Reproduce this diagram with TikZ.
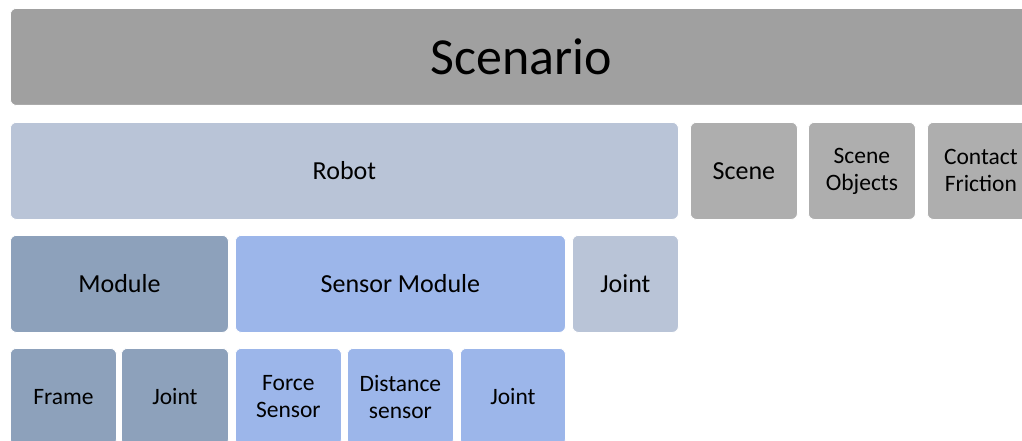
\documentclass[tikz,border=0pt]{standalone}
\usepackage{fontspec}
\setmainfont{Carlito}
\definecolor{topgray}{HTML}{A0A0A0}
\definecolor{sidegray}{HTML}{AEAEAE}
\definecolor{paleblue}{HTML}{B9C4D7}
\definecolor{slateblue}{HTML}{8DA1BB}
\definecolor{skyblue}{HTML}{9CB6EA}
\tikzset{
  box/.style={draw=white, line width=0.8pt, rounded corners=6pt, anchor=north west,
    inner sep=0pt, align=center, text=black, minimum height=97pt},
  big/.style={font=\fontsize{26}{30}\selectfont},
  small/.style={font=\fontsize{23.5}{27}\selectfont},
}
\begin{document}
\begin{tikzpicture}[x=1pt,y=1pt]
  \useasboundingbox (0,0) rectangle (1022,-441);
  \clip (0,0) rectangle (1022,-441);
  % top level
  \node[box, fill=topgray, minimum width=1022pt, font=\fontsize{52}{56}\selectfont] (scenario) at (10,-8) {Scenario};
  % second level
  \node[box, fill=paleblue, minimum width=668pt, big] (robot) at (10,-122) {Robot};
  \node[box, fill=sidegray, minimum width=107pt, big] (scene) at (690,-122) {Scene};
  \node[box, fill=sidegray, minimum width=107pt, small] (sceneobj) at (808,-122) {Scene\\Objects};
  \node[box, fill=sidegray, minimum width=107pt, small] (contact) at (927,-122) {Contact\\Friction};
  % third level
  \node[box, fill=slateblue, minimum width=218pt, big] (module) at (10,-235) {Module};
  \node[box, fill=skyblue, minimum width=330pt, big] (sensormod) at (235,-235) {Sensor Module};
  \node[box, fill=paleblue, minimum width=106pt, big] (joint) at (572,-235) {Joint};
  % fourth level
  \node[box, fill=slateblue, minimum width=106pt, small] (frame) at (10,-348) {Frame};
  \node[box, fill=slateblue, minimum width=107pt, small] (mjoint) at (121,-348) {Joint};
  \node[box, fill=skyblue, minimum width=106pt, small] (force) at (235,-348) {Force\\Sensor};
  \node[box, fill=skyblue, minimum width=106pt, small] (distance) at (347,-348) {Distance\\sensor};
  \node[box, fill=skyblue, minimum width=105pt, small] (sjoint) at (460,-348) {Joint};
\end{tikzpicture}
\end{document}
